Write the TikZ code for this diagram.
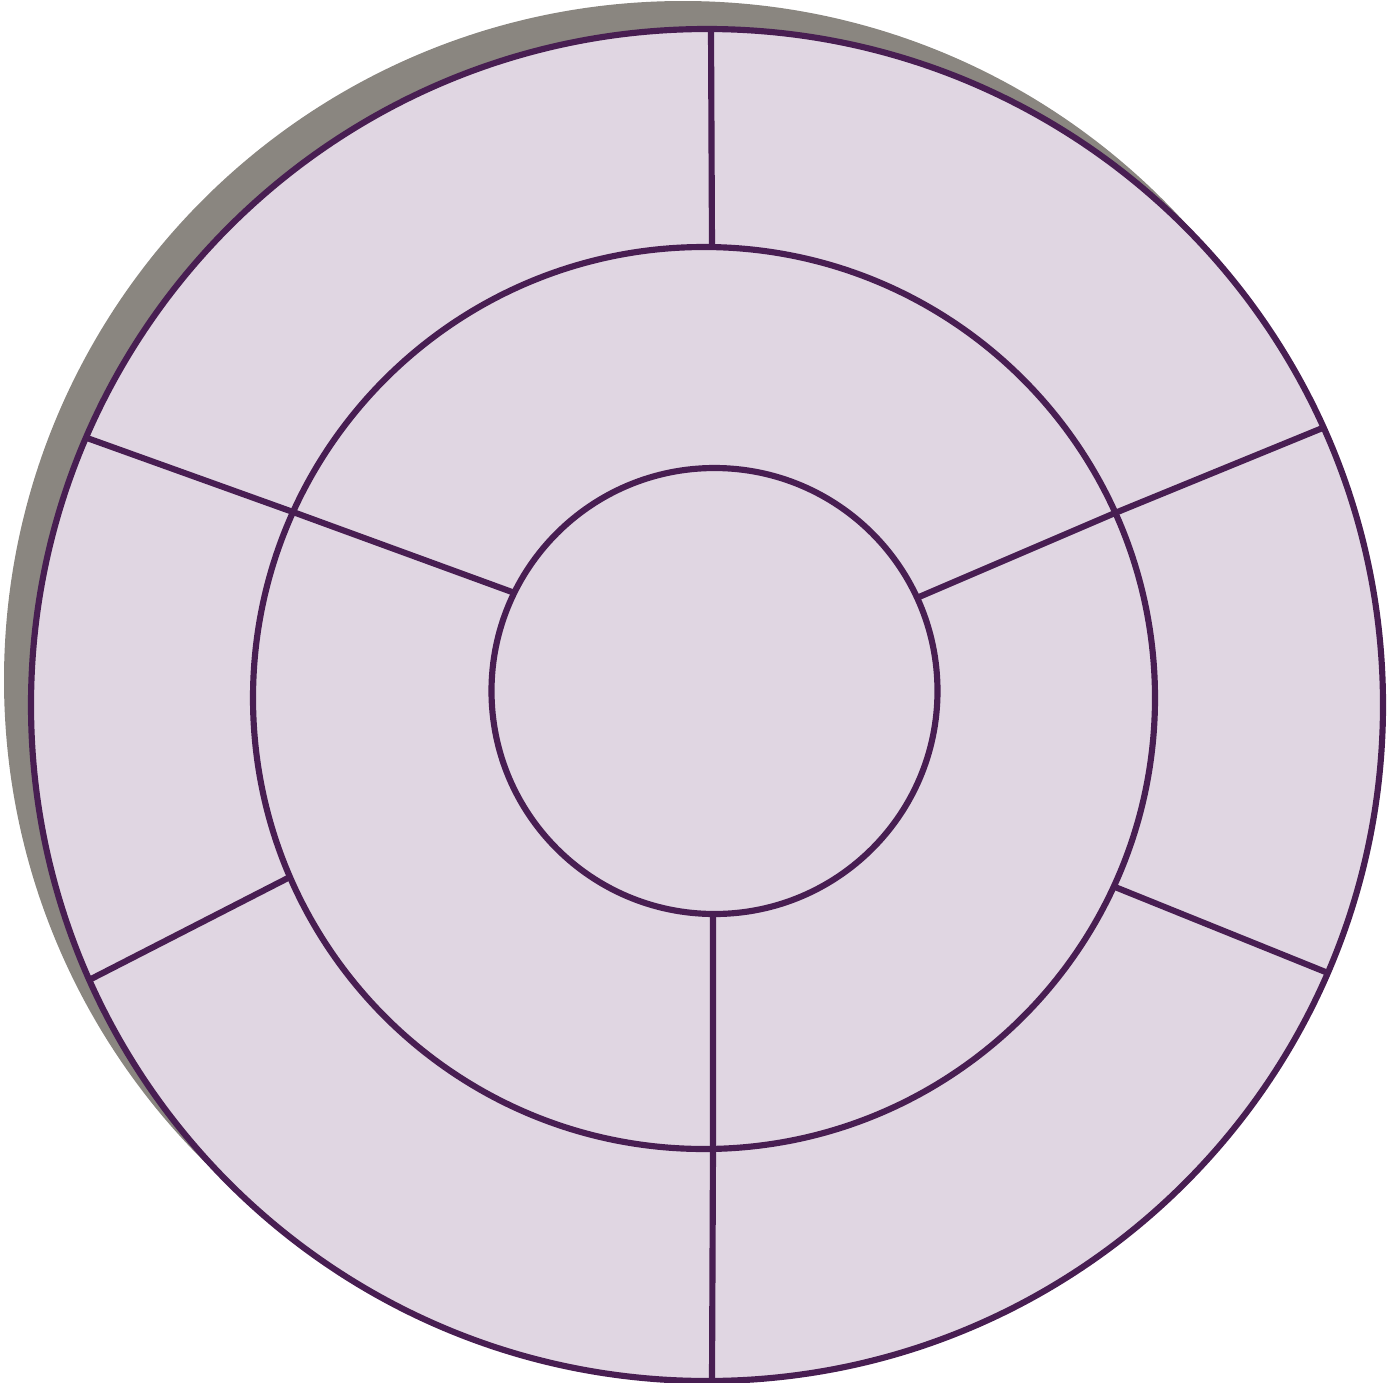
\documentclass[tikz,border=0pt]{standalone}
\definecolor{ringfill}{HTML}{E0D6E2}
\definecolor{ringline}{HTML}{481E52}
\definecolor{shadowgray}{HTML}{8A8680}
\begin{document}
\begin{tikzpicture}[
  x=0.02cm, y=-0.02cm,
  ring/.style={draw=ringline, line width=3.5pt},
  spoke/.style={draw=ringline, line width=3.5pt},
  shade/.style={fill=shadowgray}
]
\useasboundingbox (0,0) rectangle (1387,1383);
% shadow and outer disc
\fill[shade] (683,680) circle (679);
\filldraw[ring, fill=ringfill] (707,705) circle (676);
% middle and inner rings
\draw[ring] (704,698) circle (451);
\draw[ring] (714.5,691) circle (223);
% spoke ends
\coordinate (top out) at (711,30);
\coordinate (top mid) at (712,247);
\coordinate (ru out) at (1325,427);
\coordinate (ru mid) at (1115,513);
\coordinate (ru in) at (919,597);
\coordinate (rl mid) at (1115,887);
\coordinate (rl out) at (1328,973);
\coordinate (bot in) at (713,913);
\coordinate (bot mid) at (713,1148);
\coordinate (bot out) at (712,1380);
\coordinate (ll mid) at (288,878);
\coordinate (ll out) at (91,979);
\coordinate (lu out) at (87,438);
\coordinate (lu mid) at (293,512);
\coordinate (lu in) at (512,592);
% spokes
\draw[spoke] (top out) -- (top mid);
\draw[spoke] (ru out) -- (ru mid) -- (ru in);
\draw[spoke] (rl mid) -- (rl out);
\draw[spoke] (bot in) -- (bot mid) -- (bot out);
\draw[spoke] (ll mid) -- (ll out);
\draw[spoke] (lu out) -- (lu mid) -- (lu in);
\end{tikzpicture}
\end{document}
